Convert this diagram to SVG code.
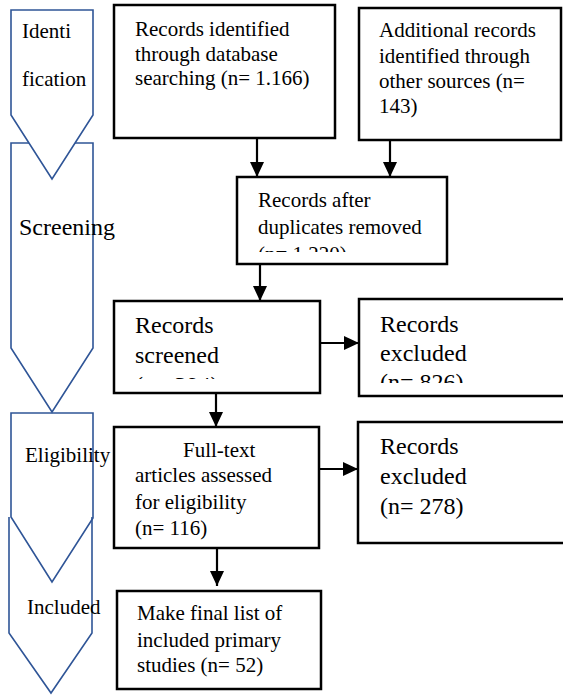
<svg xmlns="http://www.w3.org/2000/svg" width="563" height="695" viewBox="0 0 563 695">
<style>
.chev{fill:#fff;stroke:#2F5597;stroke-width:1.6;stroke-linejoin:miter}
.box{fill:#fff;stroke:#000;stroke-width:2.5}
.t{font-family:"Liberation Serif","Times New Roman",serif;font-size:21px;fill:#000}
.tl{font-family:"Liberation Serif","Times New Roman",serif;font-size:24px;fill:#000}
.con{stroke:#000;stroke-width:2.2;fill:none}
</style>
<defs>
<marker id="ah" markerUnits="userSpaceOnUse" markerWidth="16" markerHeight="14" refX="15" refY="7" orient="auto">
<path d="M0,0 L15,7 L0,14 Z" fill="#000"/>
</marker>
<clipPath id="c3"><rect x="237" y="177" width="210" height="75"/></clipPath>
<clipPath id="c4"><rect x="114" y="301" width="206" height="78"/></clipPath>
<clipPath id="c5"><rect x="359" y="299" width="210" height="84"/></clipPath>
</defs>
<rect width="563" height="695" fill="#fff"/>

<g id="stage-included">
<path class="chev" d="M9,517 L9,633 L51,693 L92,633 L92,517" style="fill:none"/>
<text class="t" x="27" y="614">Included</text>
</g>
<g id="stage-eligibility">
<path class="chev" d="M11,413 L93,413 L93,518 L52,582 L11,517 Z" style="fill:none"/>
<text class="t" x="25" y="462">Eligibility</text>
</g>
<g id="stage-screening">
<path class="chev" d="M11,143 L93,143 L93,348 L52,412 L11,348 Z" style="fill:none"/>
<text class="tl" x="19" y="235">Screening</text>
</g>
<g id="stage-identification">
<path class="chev" d="M11,10 L93,10 L93,115 L52,179 L11,115 Z"/>
<text class="t" x="22" y="38">Identi</text>
<text class="t" x="22" y="86">fication</text>
</g>

<g id="connectors">
<line class="con" x1="257" y1="139" x2="257" y2="177" marker-end="url(#ah)"/>
<line class="con" x1="390" y1="141" x2="390" y2="177" marker-end="url(#ah)"/>
<line class="con" x1="260" y1="264" x2="260" y2="301" marker-end="url(#ah)"/>
<line class="con" x1="320" y1="343" x2="359" y2="343" marker-end="url(#ah)"/>
<line class="con" x1="216" y1="388" x2="216" y2="427" marker-end="url(#ah)"/>
<line class="con" x1="319" y1="469" x2="358" y2="469" marker-end="url(#ah)"/>
<line class="con" x1="217" y1="548" x2="217" y2="586" marker-end="url(#ah)"/>
</g>

<g id="box-database">
<rect class="box" x="114" y="5" width="221" height="133"/>
<text class="t" x="135" y="36">Records identified</text>
<text class="t" x="135" y="61">through database</text>
<text class="t" x="135" y="85">searching (n= 1.166)</text>
</g>
<g id="box-other">
<rect class="box" x="359" y="8" width="202" height="132"/>
<text class="t" x="379" y="37">Additional records</text>
<text class="t" x="379" y="63">identified through</text>
<text class="t" x="379" y="88">other sources (n=</text>
<text class="t" x="379" y="113">143)</text>
</g>
<g id="box-duplicates">
<rect class="box" x="237" y="177" width="210" height="87"/>
<g clip-path="url(#c3)">
<text class="t" x="258" y="207">Records after</text>
<text class="t" x="258" y="234">duplicates removed</text>
<text class="t" x="258" y="261">(n= 1.220)</text>
</g>
</g>
<g id="box-screened">
<rect class="box" x="114" y="301" width="206" height="92"/>
<g clip-path="url(#c4)">
<text class="tl" x="135" y="333">Records</text>
<text class="tl" x="135" y="363">screened</text>
<text class="tl" x="135" y="393">(n= 394)</text>
</g>
</g>
<g id="box-excluded1">
<rect class="box" x="359" y="299" width="215" height="97"/>
<g clip-path="url(#c5)">
<text class="tl" x="380" y="332">Records</text>
<text class="tl" x="380" y="361">excluded</text>
<text class="tl" x="380" y="390">(n= 826)</text>
</g>
</g>
<g id="box-fulltext">
<rect class="box" x="114" y="427" width="205" height="121"/>
<text class="t" x="183" y="457">Full-text</text>
<text class="t" x="135" y="482">articles assessed</text>
<text class="t" x="135" y="509">for eligibility</text>
<text class="t" x="135" y="535">(n= 116)</text>
</g>
<g id="box-excluded2">
<rect class="box" x="358" y="422" width="216" height="121"/>
<text class="tl" x="380" y="454">Records</text>
<text class="tl" x="380" y="484">excluded</text>
<text class="tl" x="380" y="514">(n= 278)</text>
</g>
<g id="box-final">
<rect class="box" x="117" y="591" width="204" height="98"/>
<text class="t" x="137" y="620">Make final list of</text>
<text class="t" x="137" y="647">included primary</text>
<text class="t" x="137" y="672">studies (n= 52)</text>
</g>
</svg>
